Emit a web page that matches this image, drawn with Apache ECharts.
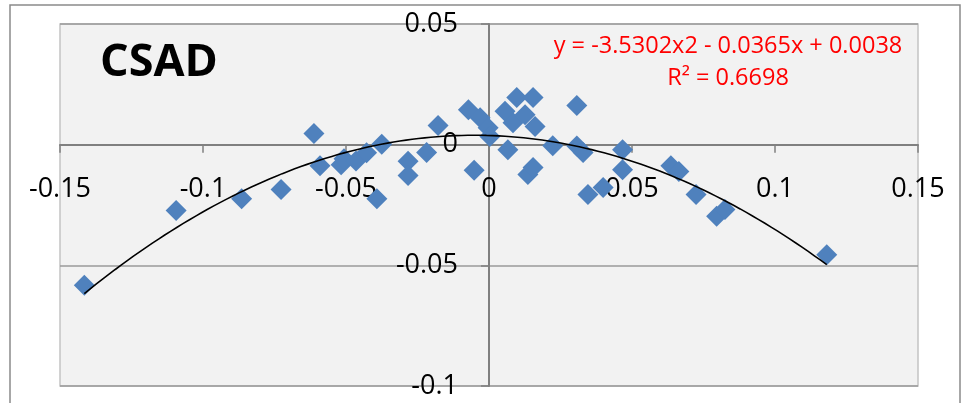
<!DOCTYPE html>
<html>
<head>
<meta charset="utf-8">
<script src="https://cdn.jsdelivr.net/npm/echarts@6/dist/echarts.min.js"></script>
<style>
html,body{margin:0;padding:0;background:#fff;}
#chart{width:963px;height:403px;}
</style>
</head>
<body>
<div id="chart"></div>
<script>
// Scatter data: market return (x) vs CSAD (y)
const xValues = [-0.1415,-0.1094,-0.0865,-0.0727,-0.0612,-0.0591,-0.0517,-0.0507,-0.0465,-0.0428,
  -0.0375,-0.0392,-0.0283,-0.0283,-0.0218,-0.0178,-0.0072,-0.0052,-0.0031,-0.0003,
  0.0003,0.0056,0.0066,0.0084,0.0097,0.0154,0.0126,0.0161,0.0136,0.0154,
  0.0223,0.0307,0.0307,0.0329,0.0467,0.0467,0.0346,0.0399,0.0636,0.0664,
  0.0724,0.0796,0.0825,0.1181];
const yValues = [-0.0583,-0.0273,-0.0224,-0.0186,0.0046,-0.0087,-0.0083,-0.0058,-0.0068,-0.0033,
  0.0002,-0.0224,-0.0069,-0.0128,-0.0032,0.0079,0.0145,-0.0106,0.0112,0.0070,
  0.0034,0.0138,-0.0021,0.0091,0.0195,0.0195,0.0124,0.0075,-0.0124,-0.0095,
  -0.0004,0.0162,-0.0006,-0.0032,-0.0021,-0.0104,-0.0207,-0.0178,-0.0087,-0.0111,
  -0.0207,-0.0297,-0.0269,-0.0456];
// Polynomial trendline coefficients shown on the chart (a, b, c for a*x^2 + b*x + c)
const trendCoeffs = [-3.5302, -0.0365, 0.0038];
const trendLabel = ['y = -3.5302x2 - 0.0365x + 0.0038', 'R\u00B2 = 0.6698'];
const chartTitle = 'CSAD';
const xTicks = [-0.15, -0.1, -0.05, 0, 0.05, 0.1, 0.15];
const yTicks = [-0.1, -0.05, 0, 0.05];

const points = xValues.map((x, i) => [x, yValues[i]]);
const xMinData = Math.min(...xValues), xMaxData = Math.max(...xValues);
const trend = [];
const N = 120;
for (let i = 0; i <= N; i++) {
  const x = xMinData + (xMaxData - xMinData) * i / N;
  trend.push([x, trendCoeffs[0] * x * x + trendCoeffs[1] * x + trendCoeffs[2]]);
}

// grid layout
const W = 963, H = 403;
const G = {left: 60, right: 45, top: 24, bottom: 17};
const gw = W - G.left - G.right, gh = H - G.top - G.bottom;
const xMin = xTicks[0], xMax = xTicks[xTicks.length - 1];
const yMin = yTicks[0], yMax = yTicks[yTicks.length - 1];
// shift the axes so they cross at zero (labels move with them)
const xAxisOffset = -gh * (0 - yMin) / (yMax - yMin);
const yAxisOffset = -gw * (0 - xMin) / (xMax - xMin);

const FONT = '"Open Sans", "Liberation Sans", sans-serif';
const fmt = v => String(Math.round(v * 100) / 100);
const chart = echarts.init(document.getElementById('chart'), null, {renderer: 'canvas'});
chart.setOption({
  animation: false,
  backgroundColor: '#ffffff',
  grid: {
    left: G.left, right: G.right, top: G.top, bottom: G.bottom,
    containLabel: false, outerBoundsMode: 'none',
    show: true, backgroundColor: '#f2f2f2', borderColor: '#c4c4c4', borderWidth: 1.5
  },
  xAxis: {
    type: 'value', position: 'bottom', offset: xAxisOffset,
    min: xMin, max: xMax, interval: 0.05,
    axisLine: {show: true, onZero: false, lineStyle: {color: '#808080', width: 2}},
    axisTick: {show: true, inside: false, length: 8, lineStyle: {color: '#808080', width: 1.5}},
    axisLabel: {color: '#000', fontSize: 27, fontFamily: FONT, margin: 31, formatter: fmt},
    splitLine: {show: false}
  },
  yAxis: {
    type: 'value', position: 'left', offset: yAxisOffset,
    min: yMin, max: yMax, interval: 0.05,
    axisLine: {show: true, onZero: false, lineStyle: {color: '#808080', width: 2}},
    axisTick: {show: true, inside: false, length: 8, lineStyle: {color: '#808080', width: 1.5}},
    axisLabel: {color: '#000', fontSize: 27, fontFamily: FONT, margin: 31, formatter: fmt},
    splitLine: {show: true, lineStyle: {color: '#9a9a9a', width: 1.5}}
  },
  series: [
    {
      type: 'scatter',
      data: points,
      symbol: 'diamond',
      symbolSize: [21, 21],
      itemStyle: {color: '#4f81bd', opacity: 1},
      z: 3
    },
    {
      type: 'line',
      data: trend,
      showSymbol: false,
      smooth: false,
      lineStyle: {color: '#000', width: 1.6},
      z: 4
    }
  ],
  graphic: [
    {
      type: 'rect', silent: true, z: -10,
      shape: {x: 10, y: 5, width: 950, height: 420},
      style: {fill: 'none', stroke: '#8a8a8a', lineWidth: 1.5}
    },
    {
      type: 'text', z: 10, x: 100, y: 63,
      style: {text: chartTitle, fill: '#000', font: 'bold 45px ' + FONT, textVerticalAlign: 'middle', textAlign: 'left'}
    },
    {
      type: 'text', z: 10, x: 728, y: 46,
      style: {text: trendLabel[0], fill: '#ff0000', font: '23.5px ' + FONT, textVerticalAlign: 'middle', textAlign: 'center'}
    },
    {
      type: 'text', z: 10, x: 728, y: 78,
      style: {text: trendLabel[1], fill: '#ff0000', font: '23.5px ' + FONT, textVerticalAlign: 'middle', textAlign: 'center'}
    }
  ]
});
</script>
</body>
</html>
